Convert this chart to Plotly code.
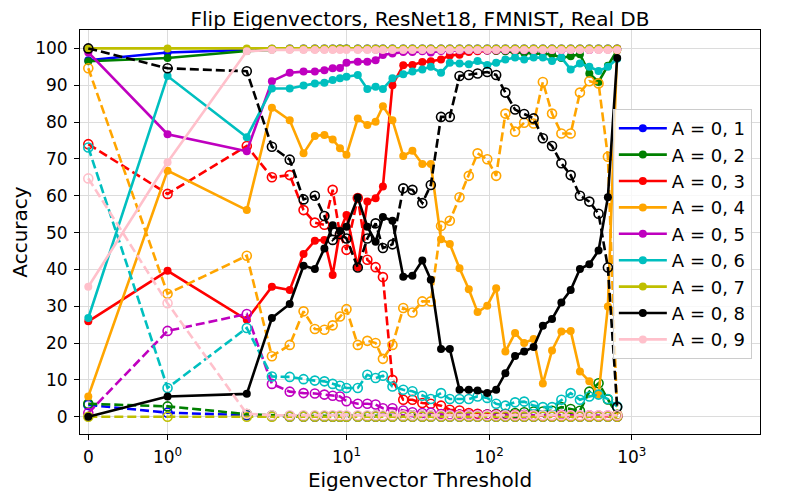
import numpy as np
import plotly.graph_objects as go

# eigenvector thresholds (x) -- symlog axis, linthresh 2
thresholds = [0, 1, 2, 3, 4, 5, 6, 7, 8, 9, 10, 12, 14, 16, 18, 21, 25, 29, 34, 39,
              46, 53, 62, 72, 83, 97, 112, 130, 152, 176, 205, 238, 276, 321, 373, 433, 504, 585, 680, 790]

labels = ["A = 0, 1", "A = 0, 2", "A = 0, 3", "A = 0, 4", "A = 0, 5",
          "A = 0, 6", "A = 0, 7", "A = 0, 8", "A = 0, 9"]
colors = ["#0000ff", "#008000", "#ff0000", "#ffa500", "#bf00bf",
          "#00bfbf", "#bfbf00", "#000000", "#ffc0cb"]

# solid = filled markers, dashed = open markers
acc_01 = [96.8, 98.9, 99.6, 99.9, 100, 100, 100, 100, 100, 100, 100, 100, 100, 100, 100, 100, 100, 100, 100, 100,
          100, 100, 100, 100, 100, 100, 100, 100, 100, 100, 100, 100, 100, 100, 100, 100, 100, 100, 100, 100]
flip_01 = [3.2, 1.1, 0.4, 0.1, 0, 0, 0, 0, 0, 0, 0, 0, 0, 0, 0, 0, 0, 0, 0, 0,
           0, 0, 0, 0, 0, 0, 0, 0, 0, 0, 0, 0, 0, 0, 0, 0, 0, 0, 0, 0]

acc_02 = [96.5, 97.4, 99.3, 99.7, 99.8, 99.8, 99.8, 99.8, 99.8, 99.9, 99.9, 99.8, 99.8, 99.7, 99.8, 99.8, 99.7, 99.6, 99.7, 99.7,
          99.6, 99.6, 99.5, 99.6, 99.5, 99.4, 99.3, 99.2, 99.0, 98.8, 98.6, 98.6, 98.4, 97.4, 97.9, 98.4, 93.2, 90.9, 95.3, 99.5]
flip_02 = [3.5, 2.8, 0.7, 0.3, 0.2, 0.2, 0.2, 0.2, 0.2, 0.1, 0.1, 0.2, 0.2, 0.3, 0.2, 0.2, 0.3, 0.4, 0.3, 0.3,
           0.4, 0.4, 0.5, 0.4, 0.5, 0.6, 0.7, 0.8, 1.0, 1.2, 1.4, 1.4, 1.6, 2.6, 2.1, 1.6, 6.8, 9.1, 4.7, 0.5]

acc_03 = [25.9, 39.6, 26.3, 35.3, 34.4, 44.2, 47.8, 48.0, 38.5, 50.5, 54.8, 40.6, 58.4, 59.3, 62.5, 90.0, 95.4, 95.5, 96.3, 96.5,
          97.0, 98.1, 98.3, 99.0, 99.2, 99.4, 99.4, 99.5, 99.5, 99.6, 99.6, 99.7, 99.7, 99.7, 99.8, 99.8, 99.8, 99.8, 99.8, 99.9]
flip_03 = [74.0, 60.5, 73.5, 65.0, 65.6, 56.1, 52.7, 52.1, 61.6, 49.5, 45.3, 59.4, 42.6, 40.6, 37.9, 10.0, 4.6, 4.6, 3.7, 3.5,
           3.0, 1.9, 1.7, 1.0, 0.8, 0.6, 0.6, 0.5, 0.5, 0.4, 0.4, 0.3, 0.3, 0.3, 0.2, 0.2, 0.2, 0.2, 0.2, 0.1]

acc_04 = [5.5, 66.8, 56.1, 83.9, 80.5, 71.5, 76.2, 76.5, 75.3, 72.9, 71.1, 81.0, 79.2, 80.1, 84.3, 80.5, 70.8, 72.2, 68.6, 68.6,
          48.2, 46.9, 40.3, 34.6, 28.4, 30.1, 34.9, 17.7, 22.7, 20.0, 21.1, 9.0, 18.0, 23.1, 23.3, 12.3, 9.6, 6.0, 29.9, 99.5]
flip_04 = [94.6, 33.4, 43.7, 16.4, 19.5, 28.6, 23.8, 23.6, 24.8, 27.2, 29.2, 19.5, 20.6, 20.0, 15.7, 19.5, 29.5, 28.3, 31.3, 31.3,
           51.8, 53.2, 59.6, 65.4, 71.5, 69.9, 65.4, 82.3, 77.4, 79.8, 79.6, 90.9, 82.3, 76.9, 76.9, 88.0, 91.1, 90.5, 70.6, 0.5]

acc_05 = [98.9, 76.7, 72.1, 91.1, 93.4, 93.7, 93.7, 94.1, 94.6, 94.7, 96.1, 96.4, 96.4, 96.8, 98.2, 98.6, 99.0, 99.0, 99.2, 98.9,
          99.3, 99.4, 99.4, 99.5, 99.5, 99.4, 99.5, 99.5, 99.6, 99.5, 99.6, 99.6, 99.6, 99.5, 99.6, 99.7, 99.6, 99.7, 99.7, 99.8]
flip_05 = [1.0, 23.3, 27.9, 8.9, 6.8, 6.4, 6.3, 6.0, 5.7, 5.5, 4.2, 3.5, 3.5, 3.3, 2.3, 2.3, 1.7, 1.2, 1.0, 1.1,
           0.7, 0.6, 0.6, 0.5, 0.5, 0.6, 0.5, 0.5, 0.4, 0.5, 0.4, 0.4, 0.4, 0.5, 0.4, 0.3, 0.4, 0.3, 0.3, 0.2]

acc_06 = [26.8, 92.5, 75.9, 89.1, 89.1, 89.9, 90.5, 90.7, 91.4, 91.9, 92.3, 92.8, 89.0, 89.6, 89.0, 91.9, 93.0, 93.7, 94.3, 95.0,
          93.4, 96.1, 95.9, 95.7, 96.6, 95.5, 96.1, 97.0, 97.5, 97.0, 97.5, 97.5, 96.6, 97.5, 94.3, 95.9, 95.0, 93.9, 95.0, 97.2]
flip_06 = [73.1, 7.8, 24.1, 10.9, 10.8, 10.2, 9.8, 9.6, 8.9, 8.4, 7.8, 7.8, 11.4, 10.5, 11.1, 8.2, 7.3, 6.9, 5.7, 4.8,
           6.4, 4.8, 4.8, 4.8, 5.5, 5.1, 3.5, 3.0, 3.9, 4.1, 3.0, 2.6, 2.6, 4.6, 6.4, 4.6, 5.5, 6.0, 4.8, 2.8]

acc_07 = [100, 100, 100, 100, 100, 100, 100, 100, 100, 100, 100, 100, 100, 100, 100, 100, 100, 100, 100, 100,
          100, 100, 100, 100, 100, 100, 100, 100, 100, 100, 100, 100, 100, 100, 100, 100, 100, 100, 100, 100]
flip_07 = [0, 0, 0, 0, 0, 0, 0, 0, 0, 0, 0, 0, 0, 0, 0, 0, 0, 0, 0, 0,
           0, 0, 0, 0, 0, 0, 0, 0, 0, 0, 0, 0, 0, 0, 0, 0, 0, 0, 0, 0]

acc_08 = [0.0, 5.5, 6.2, 26.8, 30.6, 41.0, 40.1, 45.7, 52.0, 50.4, 51.6, 59.5, 51.6, 47.5, 54.2, 53.2, 38.0, 38.3, 42.4, 37.2,
          18.4, 18.4, 7.3, 7.3, 7.1, 6.4, 7.3, 11.8, 16.5, 17.7, 18.9, 24.7, 26.5, 31.0, 34.4, 40.1, 41.4, 45.1, 59.6, 97.4]
flip_08 = [100.0, 94.6, 93.8, 73.3, 69.8, 59.0, 60.0, 54.5, 48.0, 49.6, 48.4, 40.5, 48.4, 52.5, 45.8, 46.8, 62.0, 61.6, 58.0, 62.9,
           81.4, 81.4, 92.5, 92.8, 93.2, 93.6, 92.8, 88.0, 83.4, 82.2, 81.0, 75.6, 73.5, 68.8, 65.6, 60.0, 58.4, 55.1, 40.5, 2.6]

acc_09 = [35.3, 69.1, 99.2, 99.6, 99.6, 99.6, 99.6, 99.6, 99.6, 99.6, 99.6, 99.6, 99.6, 99.6, 99.6, 99.6, 99.6, 99.6, 99.6, 99.6,
          99.6, 99.6, 99.6, 99.6, 99.6, 99.6, 99.6, 99.6, 99.6, 99.6, 99.6, 99.6, 99.6, 99.6, 99.6, 99.6, 99.6, 99.6, 99.6, 99.6]
flip_09 = [64.7, 30.8, 0.8, 0.4, 0.4, 0.4, 0.4, 0.4, 0.4, 0.4, 0.4, 0.4, 0.4, 0.4, 0.4, 0.4, 0.4, 0.4, 0.4, 0.4,
           0.4, 0.4, 0.4, 0.4, 0.4, 0.4, 0.4, 0.4, 0.4, 0.4, 0.4, 0.4, 0.4, 0.4, 0.4, 0.4, 0.4, 0.4, 0.4, 0.4]

acc_all = [acc_01, acc_02, acc_03, acc_04, acc_05, acc_06, acc_07, acc_08, acc_09]
flip_all = [flip_01, flip_02, flip_03, flip_04, flip_05, flip_06, flip_07, flip_08, flip_09]


# plotly has no symlog axis, so do the matplotlib symlog transform by hand
def symlog(v, linthresh=2.0, base=10.0):
    v = np.asarray(v, dtype=float)
    c = 1.0 / (1.0 - 1.0 / base)
    out = v / linthresh * c
    big = np.abs(v) > linthresh
    out[big] = np.sign(v[big]) * (c + np.log(np.abs(v[big]) / linthresh) / np.log(base))
    return out


xs = symlog(thresholds)
tick_vals = symlog([0, 1, 10, 100, 1000])
tick_text = ["0", "10<sup>0</sup>", "10<sup>1</sup>", "10<sup>2</sup>", "10<sup>3</sup>"]

fig = go.Figure()
for name, col, acc, flip in zip(labels, colors, acc_all, flip_all):
    fig.add_trace(go.Scatter(x=xs, y=acc, name=name, mode="lines+markers",
                             line=dict(color=col, width=2.6),
                             marker=dict(color=col, size=8, symbol="circle")))
    fig.add_trace(go.Scatter(x=xs, y=flip, name=name, mode="lines+markers", showlegend=False,
                             line=dict(color=col, width=2.6, dash="9px,4px"),
                             marker=dict(color=col, size=9, symbol="circle-open", line=dict(width=1.6))))

# the page body adds 8px on the left/top, so margins are shifted to compensate
fig.update_layout(
    width=800, height=500,
    margin=dict(l=72, r=48, t=22, b=74, autoexpand=False),
    paper_bgcolor="white", plot_bgcolor="white",
    font=dict(family="DejaVu Sans", color="black", size=17),
    title=dict(text="Flip Eigenvectors, ResNet18, FMNIST, Real DB", x=0.515, xanchor="center",
               y=0.979, yanchor="middle", font=dict(size=20)),
    legend=dict(x=0.988, xanchor="right", y=0.495, yanchor="middle", itemwidth=48,
                bgcolor="rgba(255,255,255,0.8)", bordercolor="#cccccc", borderwidth=1,
                font=dict(size=18)),
)
fig.update_xaxes(range=[-0.0582, 4.709], tickmode="array", tickvals=tick_vals, ticktext=tick_text,
                 showline=True, mirror=True, linecolor="black", linewidth=1, automargin=False,
                 ticks="outside", ticklen=5, tickcolor="black", ticklabelstandoff=3,
                 showgrid=True, gridcolor="#dcdcdc", zeroline=False,
                 title=dict(text="Eigenvector Threshold", font=dict(size=20), standoff=6))
fig.update_yaxes(range=[-4.7, 105], tickvals=list(range(0, 101, 10)),
                 showline=True, mirror=True, linecolor="black", linewidth=1, automargin=False,
                 ticks="outside", ticklen=5, tickcolor="black", ticklabelstandoff=3,
                 showgrid=True, gridcolor="#dcdcdc", zeroline=False,
                 title=dict(text="Accuracy", font=dict(size=20), standoff=3))

fig.write_html("out.html")
